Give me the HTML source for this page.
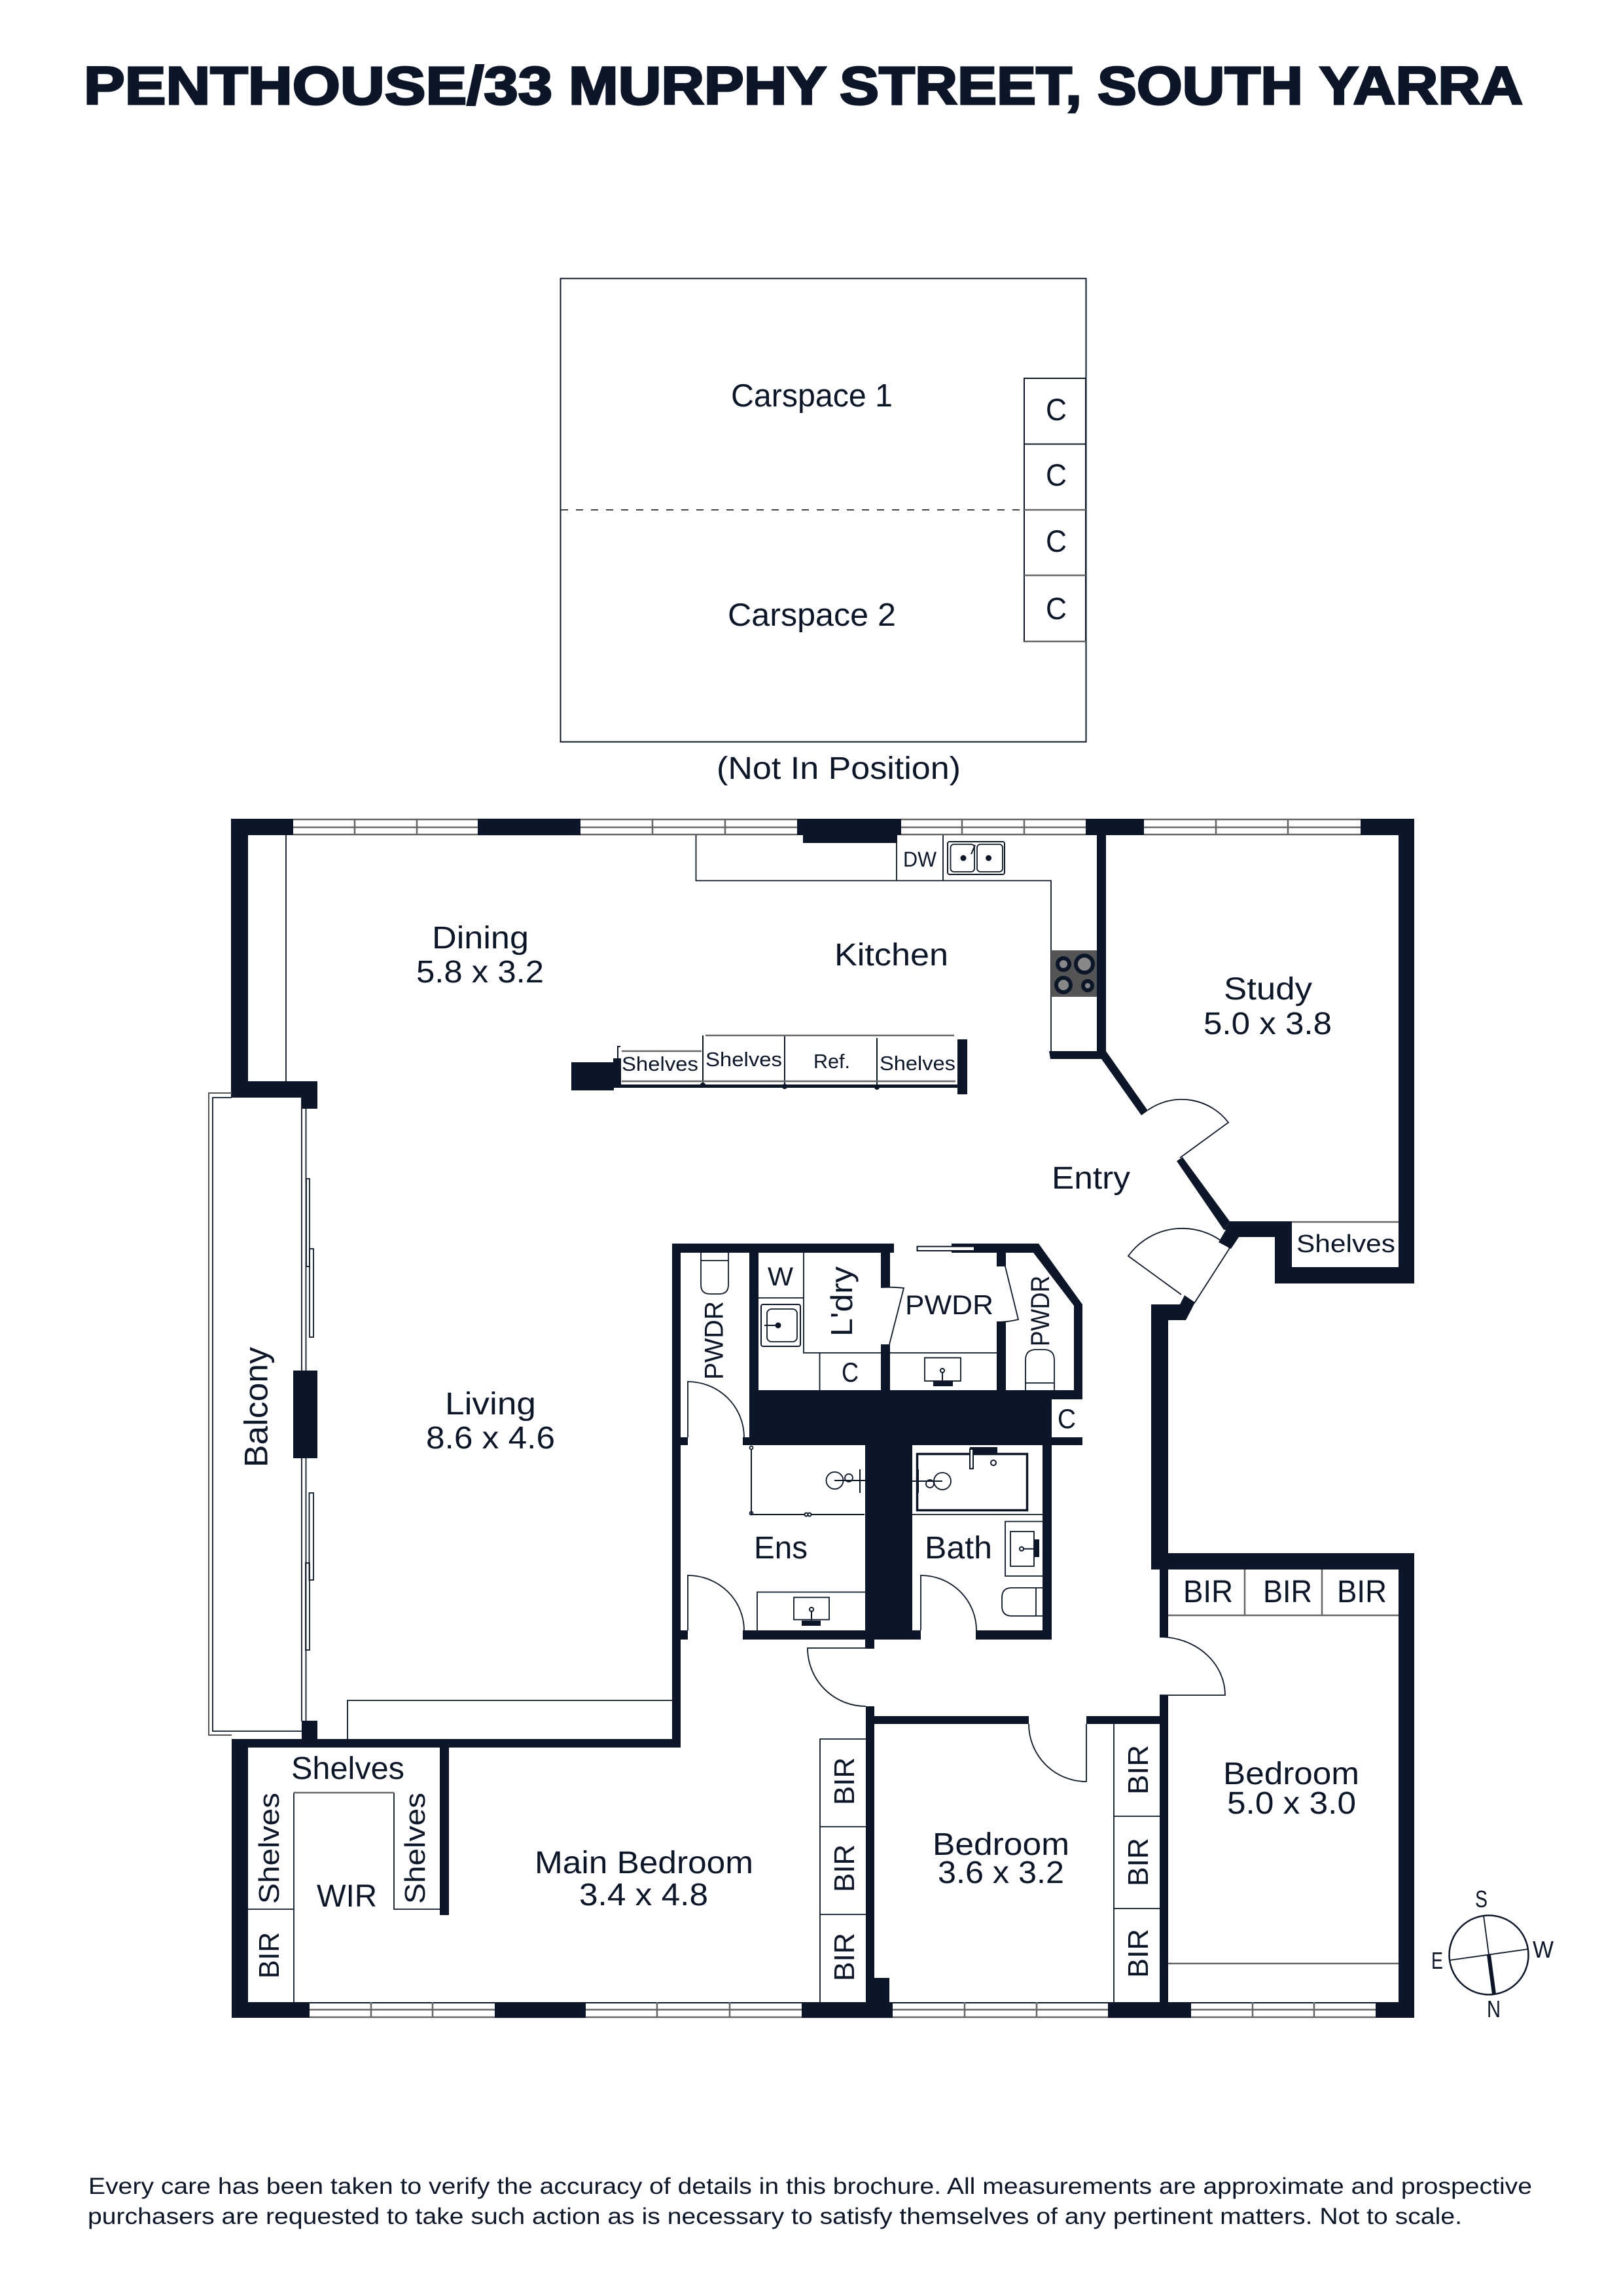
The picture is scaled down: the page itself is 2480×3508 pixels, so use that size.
<!DOCTYPE html>
<html><head><meta charset="utf-8"><title>Penthouse Floor Plan</title>
<style>
html,body{margin:0;padding:0;background:#fff;width:2480px;height:3508px;overflow:hidden}
svg{display:block}
text{font-family:"Liberation Sans",sans-serif;fill:#0b1728}
.w{fill:#0b1728;stroke:none}
.l{fill:none;stroke:#0b1728;stroke-width:2}
.g{fill:none;stroke:#666;stroke-width:2.5}
.d{fill:none;stroke:#0b1728;stroke-width:1.8}
.n{fill:#fff;stroke:#0b1728;stroke-width:2}
</style></head><body>
<svg xmlns="http://www.w3.org/2000/svg" width="2480" height="3508" viewBox="0 0 2480 3508">
<rect width="2480" height="3508" fill="#fff"/>

<!-- Title -->
<g font-size="82" font-weight="700" stroke="#0b1728" stroke-width="3">
<text x="128" y="159" textLength="716" lengthAdjust="spacingAndGlyphs">PENTHOUSE/33</text>
<text x="869" y="159" textLength="394" lengthAdjust="spacingAndGlyphs">MURPHY</text>
<text x="1283" y="159" textLength="370" lengthAdjust="spacingAndGlyphs">STREET,</text>
<text x="1677" y="159" textLength="314" lengthAdjust="spacingAndGlyphs">SOUTH</text>
<text x="2016" y="159" textLength="311" lengthAdjust="spacingAndGlyphs">YARRA</text>
</g>

<!-- Carspace -->
<rect x="856.5" y="425.5" width="803" height="708" class="l" stroke-width="2.5"/>
<path d="M857 779H1565" fill="none" stroke="#444" stroke-width="2" stroke-dasharray="11 12"/>
<rect x="1565" y="578" width="94" height="402" class="l"/>
<path d="M1565 678.5H1659" class="l"/>
<path d="M1565 779H1659M1565 879H1659M1565 980H1659" class="g"/>
<text x="1117" y="621" font-size="49" textLength="247" lengthAdjust="spacingAndGlyphs">Carspace 1</text>
<text x="1112" y="956" font-size="49" textLength="257" lengthAdjust="spacingAndGlyphs">Carspace 2</text>
<text x="1598" y="642" font-size="47" textLength="32" lengthAdjust="spacingAndGlyphs">C</text>
<text x="1598" y="742" font-size="47" textLength="32" lengthAdjust="spacingAndGlyphs">C</text>
<text x="1598" y="843" font-size="47" textLength="32" lengthAdjust="spacingAndGlyphs">C</text>
<text x="1598" y="946" font-size="47" textLength="32" lengthAdjust="spacingAndGlyphs">C</text>
<text x="1095" y="1190" font-size="48" textLength="373" lengthAdjust="spacingAndGlyphs">(Not In Position)</text>

<!-- Windows top -->
<g class="g">
<path d="M448 1252H1218M1377 1252H1659M1748 1252H2079M448 1275H1218M1377 1275H1659M1748 1275H2079M448 1264H1218M1377 1264H1659M1748 1264H2079"/>
<path d="M542 1251V1275M637 1251V1275M997 1251V1275M1108 1251V1275M1470 1251V1275M1565 1251V1275M1858 1251V1275M1968 1251V1275"/>
</g>
<!-- Windows bottom -->
<path d="M473 3060H2102" class="l" stroke-width="2.5"/>
<g class="g">
<path d="M473 3082H2102M473 3070.5H2102"/>
<path d="M567 3059V3083M661 3059V3083M1004 3059V3083M1115 3059V3083M1474 3059V3083M1584 3059V3083M1914 3059V3083M2008 3059V3083"/>
</g>

<!-- Walls -->
<g class="w">
<rect x="353" y="1251" width="95" height="25"/>
<rect x="353" y="1251" width="26" height="426"/>
<rect x="353" y="1652" width="132" height="25"/>
<rect x="461" y="1652" width="24" height="42"/>
<rect x="730" y="1251" width="157" height="25"/>
<rect x="1218" y="1251" width="159" height="25"/>
<rect x="1227" y="1270" width="144" height="18"/>
<rect x="1659" y="1251" width="89" height="25"/>
<rect x="2079" y="1251" width="82" height="25"/>
<rect x="2137" y="1251" width="24" height="710"/>
<rect x="1948" y="1936" width="213" height="25"/>
<rect x="1948" y="1866" width="26" height="95"/>
<polygon points="1879,1866 1974,1866 1974,1890 1893,1890 1881,1908 1862,1898 1873,1879 1870,1879"/>
<rect x="1676" y="1270" width="14" height="348"/>
<polygon points="1603,1606 1690,1606 1754,1697 1744,1704 1683,1618 1605,1618"/>
<polygon points="1807,1768 1879,1866 1870,1879 1798,1774"/>
<polygon points="1759,1993 1803,1993 1810,1979 1826,1990 1812,2017 1785,2017 1785,2397 1759,2397"/>
<rect x="1759" y="2373" width="402" height="25"/>
<rect x="2137" y="2373" width="24" height="710"/>
<rect x="1772" y="2397" width="13" height="104"/>
<rect x="1772" y="2590" width="13" height="470"/>
<rect x="1660" y="2622" width="125" height="12"/>
<rect x="1323" y="2622" width="249" height="12"/>
<rect x="1323" y="2607" width="13" height="452"/>
<rect x="1335" y="3022" width="24" height="40"/>
<rect x="354" y="3059" width="119" height="24"/>
<rect x="756" y="3059" width="139" height="24"/>
<rect x="1225" y="3059" width="139" height="24"/>
<rect x="1693" y="3059" width="127" height="24"/>
<rect x="2102" y="3059" width="59" height="24"/>
<rect x="448" y="2094" width="37" height="134"/>
<rect x="461" y="2629" width="24" height="41"/>
<rect x="354" y="2657" width="686" height="13"/>
<rect x="354" y="2657" width="25" height="426"/>
<rect x="672" y="2657" width="14" height="269"/>
<rect x="1027" y="1900" width="13" height="770"/>
<!-- core -->
<rect x="1027" y="1900" width="339" height="14"/>
<rect x="1454" y="1900" width="133" height="14"/>
<polygon points="1587,1900 1654,1993 1654,2138 1641,2138 1641,1995 1579,1914 1570,1910"/>
<rect x="1145" y="1914" width="14" height="212"/>
<rect x="1346" y="1914" width="14" height="53"/>
<rect x="1346" y="2054" width="14" height="71"/>
<rect x="1523" y="1914" width="14" height="21"/>
<rect x="1523" y="2019" width="14" height="106"/>
<rect x="1145" y="2124" width="462" height="84"/>
<rect x="1600" y="2124" width="54" height="14"/>
<rect x="1600" y="2196" width="54" height="12"/>
<rect x="1135" y="2196" width="12" height="12"/>
<rect x="1040" y="2196" width="11" height="12"/>
<rect x="1040" y="2491" width="11" height="14"/>
<rect x="1322" y="2208" width="72" height="297"/>
<rect x="1322" y="2500" width="14" height="19"/>
<rect x="1593" y="2208" width="14" height="297"/>
<rect x="1135" y="2491" width="190" height="14"/>
<rect x="1390" y="2491" width="17" height="14"/>
<rect x="1491" y="2491" width="116" height="14"/>
<!-- island -->
<rect x="873" y="1623" width="65" height="43"/>
<rect x="937" y="1617" width="12" height="45"/>
<rect x="949" y="1657" width="514" height="5"/>
<rect x="1463" y="1588" width="15" height="84"/>
<circle cx="1074" cy="1658" r="4"/><circle cx="1199" cy="1660" r="4"/><circle cx="1340" cy="1661" r="4"/>
</g>

<!-- Balcony -->
<path d="M354 1670H319V2651H354" fill="none" stroke="#555" stroke-width="2"/>
<path d="M354 1677H325V2645H461" fill="none" stroke="#0b1728" stroke-width="1.8"/>
<path d="M461 1677V2630M467.5 1694V2094M467.5 2228V2630" class="d"/>
<rect x="468" y="1801" width="5" height="134" class="d"/>
<rect x="473" y="1908" width="6" height="135" class="d"/>
<rect x="472.5" y="2281" width="6.5" height="133" class="d"/>
<rect x="467" y="2388" width="6" height="133" class="d"/>

<!-- Thin joinery lines -->
<path d="M437 1276V1652" class="d"/>
<path d="M1063.5 1276V1345.5H1606V1606" class="d"/>
<path d="M1370 1276V1345M1441 1276V1345" class="d"/>
<path d="M531 2657V2598H1027" class="d"/>
<path d="M449 3059V2739M602 2739V2917H672M379 2917H449" class="d"/>
<path d="M449 2739H602" class="g" stroke-width="3.5"/>
<path d="M1253 3059V2657H1323M1253 2791H1323M1253 2925H1323" class="d"/>
<path d="M1702 3059V2634M1702 2775H1772M1702 2916H1772" class="d"/>
<path d="M1785 2468H2137M1902 2398V2468M2020 2398V2468" class="g"/>
<path d="M1785 3000H2137" class="g" stroke-width="3"/>
<path d="M1974 1867H2137" class="g"/>

<!-- Island dividers -->
<path d="M944 1660V1599H948M1074 1660V1582M1199 1660V1583M1340 1660V1586" class="l" stroke-width="2.5"/>
<path d="M950 1606H1072" class="g" stroke-width="3"/>
<path d="M1078 1582H1458M950 1652H1460" class="g"/>

<!-- Doors -->
<path d="M1754 1696A90 90 0 0 1 1877 1715L1803 1769" class="d"/>
<path d="M1879 1907A102 102 0 0 0 1724 1919L1805 1978" class="d"/>
<path d="M1879 1907L1825 1991" class="d"/>
<path d="M1051 2196V2111A86 85 0 0 1 1137 2196" class="d"/>
<path d="M1051 2491V2407A86 84 0 0 1 1137 2491" class="d"/>
<path d="M1407 2491V2407A85 84 0 0 1 1492 2491" class="d"/>
<path d="M1772 2501A100 89 0 0 1 1872 2590H1772" class="d"/>
<path d="M1572 2634A88 88 0 0 0 1660 2722V2634" class="d"/>
<path d="M1323 2518H1234A89 89 0 0 0 1323 2607" class="d"/>
<path d="M1346 1967Q1365 1966 1381 1968L1359 2054" class="d"/>
<path d="M1536 1935L1556 2016Q1540 2020 1523 2020" class="d"/>
<rect x="1401.5" y="1904.5" width="87.5" height="6.5" fill="#fff" stroke="#0b1728" stroke-width="2"/>

<!-- Laundry/PWDR lines -->
<path d="M1159 1983H1228M1228 1914V2067H1346M1252.5 2067V2124M1360 2067H1523" class="d"/>
<rect x="1163" y="1993" width="60" height="64" rx="3" class="l" stroke-width="3.5"/>
<rect x="1172" y="2000" width="46" height="50" rx="7" class="d"/>
<circle cx="1189" cy="2025" r="4.5" fill="#0b1728"/>
<path d="M1168 2025H1189" class="l" stroke-width="3"/>

<!-- Toilets -->
<path d="M1071 1914V1963Q1071 1977 1085 1977H1099Q1113 1977 1113 1963V1914M1071 1926H1113" class="d"/>
<path d="M1567 2124V2078Q1567 2062 1583 2062H1595Q1611 2062 1611 2078V2124M1567 2113H1611" class="d"/>
<path d="M1593 2426H1546Q1531 2426 1531 2441V2454Q1531 2469 1546 2469H1593M1583 2426V2469" class="d"/>

<!-- Basins -->
<g>
<rect x="1413" y="2074.5" width="55" height="35.5" class="d"/>
<path d="M1440 2094V2111" class="l" stroke-width="3"/><circle cx="1440" cy="2094" r="3" class="n"/>
<rect x="1426" y="2110" width="30" height="8" class="w"/>
<rect x="1213" y="2440.6" width="54" height="34" class="d"/>
<path d="M1240 2459V2477" class="l" stroke-width="3"/><circle cx="1240" cy="2459" r="3" class="n"/>
<rect x="1225" y="2476" width="29" height="8" class="w"/>
<path d="M1157 2491V2432.5H1322" class="d"/>
<rect x="1544" y="2340" width="36" height="53" class="d"/>
<path d="M1561 2366.5H1582" class="l" stroke-width="3"/><circle cx="1561" cy="2366.5" r="3" class="n"/>
<rect x="1580" y="2352" width="8" height="27" class="w"/>
<path d="M1593 2324.6H1536V2408H1593" class="d"/>
</g>

<!-- Bath & shower -->
<rect x="1401.5" y="2221.5" width="168" height="86" fill="none" stroke="#0b1728" stroke-width="3.5"/>
<path d="M1394 2314H1593" class="d"/>
<rect x="1482" y="2211" width="42" height="9" class="w"/>
<rect x="1482" y="2214" width="5" height="30" class="n"/>
<circle cx="1518" cy="2235" r="4" class="n" stroke-width="3"/>
<circle cx="1440" cy="2263" r="13" class="d"/>
<path d="M1394 2263H1440" class="l" stroke-width="4"/>
<circle cx="1421" cy="2267" r="6" class="d"/>
<path d="M1403 2245V2281" class="l" stroke-width="4"/>
<path d="M1148 2214V2314H1321" class="l" stroke-width="2.5"/>
<circle cx="1148" cy="2212" r="2.5" class="d"/><circle cx="1148" cy="2312" r="2.5" class="d"/>
<circle cx="1232" cy="2314" r="2.5" class="n"/><circle cx="1237" cy="2314" r="2.5" class="n"/>
<circle cx="1275.5" cy="2262" r="13" class="d"/>
<path d="M1275 2262H1322" class="l" stroke-width="4"/>
<circle cx="1297" cy="2258" r="6" class="d"/>
<path d="M1314 2245V2281" class="l" stroke-width="4"/>

<!-- Kitchen sink & cooktop -->
<rect x="1448" y="1286" width="87" height="50" rx="3" class="l" stroke-width="3.5"/>
<rect x="1452.5" y="1290" width="36.5" height="42" rx="5" class="d"/>
<rect x="1493" y="1290" width="39" height="42" rx="5" class="d"/>
<circle cx="1472" cy="1311" r="4.5" fill="#0b1728"/><circle cx="1510.6" cy="1311" r="4.5" fill="#0b1728"/>
<path d="M1484 1305L1490 1291" class="l" stroke-width="2.5"/>
<rect x="1606" y="1452" width="70" height="71" fill="#555"/>
<g fill="#888" stroke="#0b1728" stroke-width="6">
<circle cx="1625" cy="1473" r="9"/><circle cx="1657" cy="1473" r="13"/>
<circle cx="1625" cy="1505" r="11"/><circle cx="1662" cy="1506" r="7"/>
</g>

<!-- Labels -->
<g font-size="48">
<text x="660" y="1449" textLength="148" lengthAdjust="spacingAndGlyphs">Dining</text>
<text x="636" y="1501" textLength="195" lengthAdjust="spacingAndGlyphs">5.8 x 3.2</text>
<text x="1275" y="1475" textLength="174" lengthAdjust="spacingAndGlyphs">Kitchen</text>
<text x="1870" y="1527" textLength="135" lengthAdjust="spacingAndGlyphs">Study</text>
<text x="1839" y="1580" textLength="196" lengthAdjust="spacingAndGlyphs">5.0 x 3.8</text>
<text x="1607" y="1816" textLength="120" lengthAdjust="spacingAndGlyphs">Entry</text>
<text x="680" y="2161" textLength="139" lengthAdjust="spacingAndGlyphs">Living</text>
<text x="651" y="2213" textLength="197" lengthAdjust="spacingAndGlyphs">8.6 x 4.6</text>
<text x="1152" y="2381" textLength="82" lengthAdjust="spacingAndGlyphs">Ens</text>
<text x="1413" y="2381" textLength="103" lengthAdjust="spacingAndGlyphs">Bath</text>
<text x="817" y="2862" textLength="334" lengthAdjust="spacingAndGlyphs">Main Bedroom</text>
<text x="885" y="2911" textLength="197" lengthAdjust="spacingAndGlyphs">3.4 x 4.8</text>
<text x="1425" y="2834" textLength="209" lengthAdjust="spacingAndGlyphs">Bedroom</text>
<text x="1433" y="2877" textLength="193" lengthAdjust="spacingAndGlyphs">3.6 x 3.2</text>
<text x="1869" y="2726" textLength="208" lengthAdjust="spacingAndGlyphs">Bedroom</text>
<text x="1875" y="2771" textLength="197" lengthAdjust="spacingAndGlyphs">5.0 x 3.0</text>
<text x="445" y="2718" textLength="173" lengthAdjust="spacingAndGlyphs">Shelves</text>
<text x="484" y="2913" textLength="92" lengthAdjust="spacingAndGlyphs">WIR</text>
<text x="1808" y="2448" textLength="76" lengthAdjust="spacingAndGlyphs">BIR</text>
<text x="1930" y="2448" textLength="75" lengthAdjust="spacingAndGlyphs">BIR</text>
<text x="2043" y="2448" textLength="76" lengthAdjust="spacingAndGlyphs">BIR</text>
</g>
<text x="1981" y="1913" font-size="38" textLength="151" lengthAdjust="spacingAndGlyphs">Shelves</text>
<text x="1380" y="1324" font-size="32" textLength="51" lengthAdjust="spacingAndGlyphs">DW</text>
<text x="950" y="1636" font-size="31" textLength="117" lengthAdjust="spacingAndGlyphs">Shelves</text>
<text x="1078" y="1629" font-size="31" textLength="117" lengthAdjust="spacingAndGlyphs">Shelves</text>
<text x="1243" y="1632" font-size="31" textLength="56" lengthAdjust="spacingAndGlyphs">Ref.</text>
<text x="1344" y="1635" font-size="31" textLength="116" lengthAdjust="spacingAndGlyphs">Shelves</text>
<text x="1173" y="1964" font-size="40" textLength="39" lengthAdjust="spacingAndGlyphs">W</text>
<text x="1383" y="2008" font-size="42" textLength="135" lengthAdjust="spacingAndGlyphs">PWDR</text>
<text x="1286" y="2111" font-size="42" textLength="26" lengthAdjust="spacingAndGlyphs">C</text>
<text x="1616" y="2182" font-size="42" textLength="28" lengthAdjust="spacingAndGlyphs">C</text>

<!-- Rotated labels -->
<text transform="translate(1302,2042) rotate(-90)" font-size="46" textLength="107" lengthAdjust="spacingAndGlyphs">L'dry</text>
<text transform="translate(1104.6,2108) rotate(-90)" font-size="40" textLength="120" lengthAdjust="spacingAndGlyphs">PWDR</text>
<text transform="translate(1603,2057) rotate(-90)" font-size="40" textLength="108" lengthAdjust="spacingAndGlyphs">PWDR</text>
<text transform="translate(408.7,2242) rotate(-90)" font-size="50" textLength="184" lengthAdjust="spacingAndGlyphs">Balcony</text>
<text transform="translate(426,2909) rotate(-90)" font-size="44" textLength="170" lengthAdjust="spacingAndGlyphs">Shelves</text>
<text transform="translate(649,2909) rotate(-90)" font-size="44" textLength="170" lengthAdjust="spacingAndGlyphs">Shelves</text>
<text transform="translate(426,3023) rotate(-90)" font-size="44" textLength="71" lengthAdjust="spacingAndGlyphs">BIR</text>
<text transform="translate(1305,2758) rotate(-90)" font-size="44" textLength="73" lengthAdjust="spacingAndGlyphs">BIR</text>
<text transform="translate(1305,2891) rotate(-90)" font-size="44" textLength="73" lengthAdjust="spacingAndGlyphs">BIR</text>
<text transform="translate(1305,3027) rotate(-90)" font-size="44" textLength="74" lengthAdjust="spacingAndGlyphs">BIR</text>
<text transform="translate(1754,2742) rotate(-90)" font-size="44" textLength="76" lengthAdjust="spacingAndGlyphs">BIR</text>
<text transform="translate(1754,2882) rotate(-90)" font-size="44" textLength="74" lengthAdjust="spacingAndGlyphs">BIR</text>
<text transform="translate(1754,3022) rotate(-90)" font-size="44" textLength="75" lengthAdjust="spacingAndGlyphs">BIR</text>

<!-- Compass -->
<circle cx="2275" cy="2987" r="60.5" fill="none" stroke="#0b1728" stroke-width="2.5"/>
<path d="M2267 2927L2283 3047M2215 2995L2335 2978" fill="none" stroke="#0b1728" stroke-width="1.8"/>
<path d="M2275 2987L2283 3047" fill="none" stroke="#0b1728" stroke-width="6"/>
<text x="2254" y="2914" font-size="36" textLength="19" lengthAdjust="spacingAndGlyphs">S</text>
<text x="2187" y="3008" font-size="36" textLength="18" lengthAdjust="spacingAndGlyphs">E</text>
<text x="2342" y="2991" font-size="36" textLength="32" lengthAdjust="spacingAndGlyphs">W</text>
<text x="2272" y="3082" font-size="36" textLength="21" lengthAdjust="spacingAndGlyphs">N</text>

<!-- Footer -->
<text x="135" y="3352" font-size="35" textLength="2206" lengthAdjust="spacingAndGlyphs">Every care has been taken to verify the accuracy of details in this brochure. All measurements are approximate and prospective</text>
<text x="134" y="3398" font-size="35" textLength="2100" lengthAdjust="spacingAndGlyphs">purchasers are requested to take such action as is necessary to satisfy themselves of any pertinent matters. Not to scale.</text>
</svg>
</body></html>
